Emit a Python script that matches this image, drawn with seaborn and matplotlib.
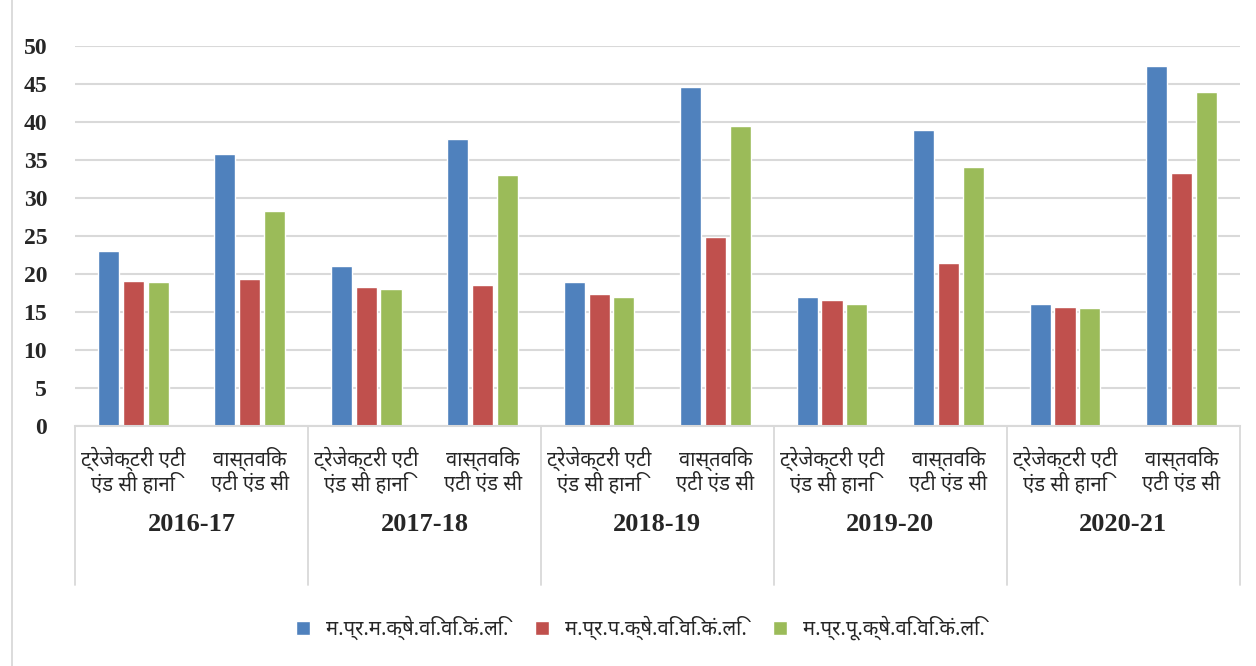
import pandas as pd
import matplotlib.pyplot as plt
import matplotlib.transforms as mtransforms
import seaborn as sns

# Data
years = ['2016-17', '2017-18', '2018-19', '2019-20', '2020-21']
loss_types = ['ट्रेजेक्टरी एटी\nएंड सी हानि', 'वास्तविक\nएटी एंड सी']
companies = ['म.प्र.म.क्षे.वि.वि.कं.लि.', 'म.प्र.प.क्षे.वि.वि.कं.लि.', 'म.प्र.पू.क्षे.वि.वि.कं.लि.']

# values per company, order: (year, trajectory), (year, actual) ...
madhya = [23.0, 35.8, 21.0, 37.8, 19.0, 44.6, 17.0, 39.0, 16.0, 47.3]
paschim = [19.1, 19.4, 18.3, 18.5, 17.4, 24.9, 16.6, 21.5, 15.7, 33.3]
purv = [19.0, 28.3, 18.0, 33.0, 17.0, 39.5, 16.0, 34.1, 15.5, 44.0]

colors = ['#4F81BD', '#C0504D', '#9BBB59']


def build_frame():
    keys = [f'{y}|{i}' for y in years for i in range(len(loss_types))]
    rows = []
    for comp, vals in zip(companies, [madhya, paschim, purv]):
        for k, v in zip(keys, vals):
            rows.append({'key': k, 'company': comp, 'value': v})
    return pd.DataFrame(rows), keys


def main():
    df, keys = build_frame()

    sns.set_style('white')
    plt.rcParams['font.family'] = ['Noto Sans Devanagari', 'Noto Serif Devanagari', 'Lohit Devanagari',
                                   'FreeSerif', 'Liberation Serif', 'DejaVu Sans']

    fig = plt.figure(figsize=(12.56, 6.66), dpi=100)
    ax = fig.add_axes([0.0597, 0.3604, 0.9273, 0.5706])

    sns.barplot(data=df, x='key', y='value', hue='company', order=keys, hue_order=companies,
                palette=colors, width=0.64, gap=0.15, saturation=1, ax=ax, legend=True)

    ax.set_ylim(0, 50)
    ax.set_xlim(-0.5, len(keys) - 0.5)
    ax.set_yticks(range(0, 51, 5))
    ax.set_yticklabels([str(t) for t in range(0, 51, 5)], fontfamily='Liberation Serif',
                       fontweight='bold', fontsize=17)
    ax.yaxis.grid(True, color='#D9D9D9', linewidth=1.5)
    ax.set_axisbelow(True)
    ax.set_xlabel('')
    ax.set_ylabel('')
    for s in ['top', 'right', 'left']:
        ax.spines[s].set_visible(False)
    ax.spines['bottom'].set_color('#D9D9D9')
    ax.spines['bottom'].set_linewidth(1.5)

    ax.set_xticks(range(len(keys)))
    ax.set_xticklabels([loss_types[i % 2] for i in range(len(keys))], fontsize=14.5,
                       linespacing=1.1)
    ax.tick_params(axis='x', length=0, pad=15)
    ax.tick_params(axis='y', length=0, pad=20)

    trans = mtransforms.blended_transform_factory(ax.transData, ax.transAxes)
    for i, y in enumerate(years):
        ax.text(2 * i + 0.5, -0.26, y, transform=trans, ha='center', va='center',
                fontsize=19, fontweight='bold', fontfamily='Liberation Serif')
    for b in range(len(years) + 1):
        ax.plot([2 * b - 0.5, 2 * b - 0.5], [0, -0.418], transform=trans, color='#D9D9D9',
                linewidth=1.3, clip_on=False)

    # outer frame line on the left
    fig.add_artist(plt.Line2D([0.0095, 0.0095], [0.0, 1.0], color='#D9D9D9', linewidth=1.3))

    handles, labels = ax.get_legend_handles_labels()
    ax.legend(handles, labels, loc='center', bbox_to_anchor=(0.51, 0.0571), bbox_transform=fig.transFigure,
              ncol=3, frameon=False, fontsize=14.5, handlelength=0.7, handleheight=0.7,
              handletextpad=0.8, columnspacing=1.3)

    fig.savefig('out.png', dpi=100, facecolor='white')


if __name__ == "__main__":
    main()
